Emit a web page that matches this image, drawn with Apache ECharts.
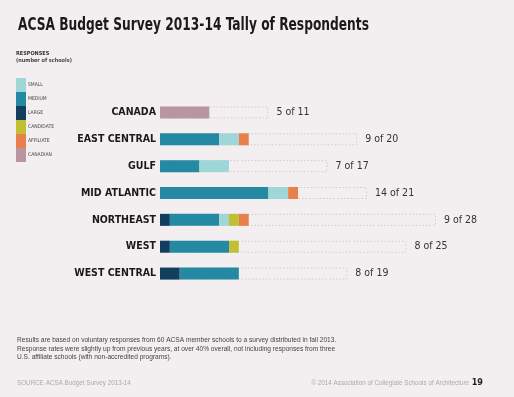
<!DOCTYPE html>
<html>
<head>
<meta charset="utf-8">
<script src="https://cdn.jsdelivr.net/npm/echarts@6/dist/echarts.min.js"></script>
<style>
  html, body { margin: 0; padding: 0; background: #f3eff0; }
  #chart { width: 514px; height: 397px; }
</style>
</head>
<body>
<div id="chart"></div>
<script>
// regions, top to bottom
const regions = ['CANADA', 'EAST CENTRAL', 'GULF', 'MID ATLANTIC', 'NORTHEAST', 'WEST', 'WEST CENTRAL'];

// responses by school type
const large     = [0, 0, 0, 0, 1, 1, 2];
const medium    = [0, 6, 4, 11, 5, 6, 6];
const small     = [0, 2, 3, 2, 1, 0, 0];
const candidate = [0, 0, 0, 0, 1, 1, 0];
const affiliate = [0, 1, 0, 1, 1, 0, 0];
const canadian  = [5, 0, 0, 0, 0, 0, 0];

// member schools per region
const totals = [11, 20, 17, 21, 28, 25, 19];

const colors = {
  SMALL: '#9fd7d8',
  MEDIUM: '#2689a3',
  LARGE: '#123f5e',
  CANDIDATE: '#c1bf33',
  AFFILIATE: '#e8804b',
  CANADIAN: '#b9959f'
};

const narrow = '"DejaVu Sans Condensed", "Liberation Sans Narrow", sans-serif';

const responded = regions.map(function (r, i) {
  return large[i] + medium[i] + small[i] + candidate[i] + affiliate[i] + canadian[i];
});

function seg(name, data) {
  return {
    name: name,
    type: 'bar',
    stack: 'resp',
    barWidth: 12,
    z: 3,
    itemStyle: { color: colors[name] },
    data: data
  };
}

const myChart = echarts.init(document.getElementById('chart'));

const option = {
  backgroundColor: '#f3eff0',
  animation: false,
  legend: {
    orient: 'vertical',
    left: 16,
    top: 78,
    padding: 0,
    itemWidth: 10,
    itemHeight: 14,
    itemGap: 0,
    icon: 'rect',
    selectedMode: false,
    data: ['SMALL', 'MEDIUM', 'LARGE', 'CANDIDATE', 'AFFILIATE', 'CANADIAN'],
    textStyle: { fontFamily: narrow, fontSize: 5, color: '#444', padding: [0, 0, 0, -3] }
  },
  grid: { left: 160, top: 99, width: 345, height: 188 },
  xAxis: {
    type: 'value',
    min: 0,
    max: 35,
    show: false
  },
  yAxis: {
    type: 'category',
    data: regions,
    inverse: true,
    axisLine: { show: false },
    axisTick: { show: false },
    axisLabel: {
      margin: 4,
      fontFamily: narrow,
      fontSize: 10.5,
      fontWeight: 'bold',
      color: '#1a1a1a'
    }
  },
  series: [
    {
      name: 'total',
      type: 'bar',
      barWidth: 12,
      barGap: '-100%',
      z: 1,
      itemStyle: {
        color: 'rgba(0,0,0,0)',
        borderColor: '#cfcbcc',
        borderWidth: 1,
        borderType: [1.5, 2]
      },
      label: {
        show: true,
        position: 'right',
        distance: 8,
        fontFamily: narrow,
        fontSize: 10.5,
        color: '#333',
        formatter: function (p) {
          return responded[p.dataIndex] + ' of ' + totals[p.dataIndex];
        }
      },
      data: totals
    },
    seg('LARGE', large),
    seg('MEDIUM', medium),
    seg('SMALL', small),
    seg('CANDIDATE', candidate),
    seg('AFFILIATE', affiliate),
    seg('CANADIAN', canadian)
  ],
  graphic: [
    { type: 'text', x: 18, y: 17, scaleX: 0.8,
      style: { text: 'ACSA Budget Survey 2013-14 Tally of Respondents', font: 'bold 17px ' + narrow,
               fill: '#1a1a1a', verticalAlign: 'top' } },
    { type: 'text', left: 16, top: 51,
      style: { text: 'RESPONSES', font: 'bold 5.5px ' + narrow, fill: '#333' } },
    { type: 'text', left: 16, top: 58,
      style: { text: '(number of schools)', font: 'bold 5.5px ' + narrow, fill: '#444' } },
    { type: 'text', left: 17, top: 336,
      style: {
        text: 'Results are based on voluntary responses from 60 ACSA member schools to a survey distributed in fall 2013.\n' +
              'Response rates were slightly up from previous years, at over 40% overall, not including responses from three\n' +
              'U.S. affiliate schools (with non-accredited programs).',
        font: '6.6px "Liberation Sans", sans-serif', fill: '#444', lineHeight: 8.5
      } },
    { type: 'text', left: 17, top: 380,
      style: { text: 'SOURCE ACSA Budget Survey 2013-14', font: '6.3px "Liberation Sans", sans-serif', fill: '#aaa' } },
    { type: 'text', right: 45, top: 380,
      style: { text: '\u00a9 2014 Association of Collegiate Schools of Architecture', font: '6.3px "Liberation Sans", sans-serif', fill: '#aaa' } },
    { type: 'text', right: 31, top: 378,
      style: { text: '19', font: 'bold 9px ' + narrow, fill: '#222' } }
  ]
};

if (option && typeof option === 'object') {
  myChart.setOption(option, true);
}
</script>
</body>
</html>
